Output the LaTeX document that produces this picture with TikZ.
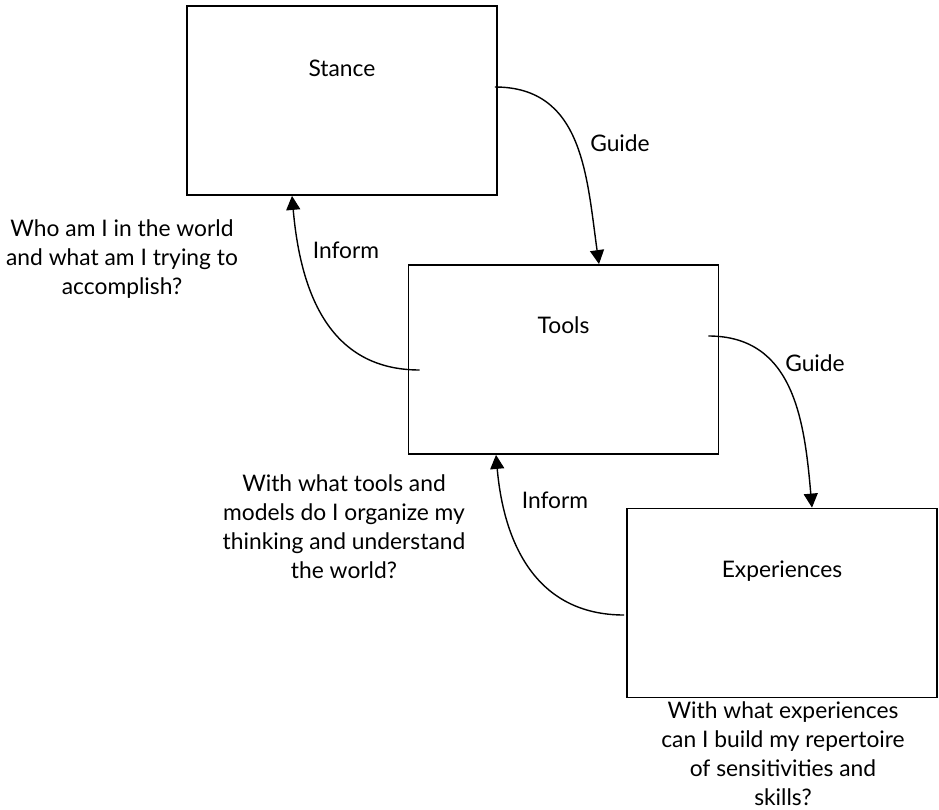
\documentclass[tikz,border=0pt]{standalone}
\usepackage{fontspec}
\setmainfont{Lato}
\usepackage{tikz}
\usetikzlibrary{arrows.meta,positioning}

\tikzset{
  box/.style={draw,line width=1.8pt,minimum width=310pt,minimum height=189pt,inner sep=0pt},
  word/.style={font=\fontsize{22.8}{29}\selectfont,inner sep=0pt},
  ask/.style={word,align=center},
  link/.style={line width=1.4pt,-{Triangle[length=14pt,width=14pt]}}
}

\begin{document}
\begin{tikzpicture}[x=1pt,y=-1pt]
\useasboundingbox (0,0) rectangle (939,810);
\node[box] (B1) at (342,100.5) {};
\node[word] (T1) at ([shift={(0,-32)}]B1) {Stance};
\node[box] (B2) at (563.5,359.5) {};
\node[word] (T2) at ([shift={(0,-34)}]B2) {Tools};
\node[box] (B3) at (782,603) {};
\node[word] (T3) at ([shift={(0,-32)}]B3) {Experiences};

\node[ask] (Q1) at (122,259) {Who am I in the world\\and what am I trying to\\accomplish?};
\node[ask] (Q2) at (344,527) {With what tools and\\models do I organize my\\thinking and understand\\the world?};
\node[ask] (Q3) at (783,754) {With what experiences\\can I build my repertoire\\of sensitivities and\\skills?};

\node[word] (G1) at (620,143) {Guide};
\node[word] (G2) at (815,363) {Guide};
\node[word] (I1) at (346,250) {Inform};
\node[word] (I2) at (555,500) {Inform};

\draw[link] ([shift={(-3,-13.5)}]B1.east) to[out=0,in=98,looseness=1.1] ([shift={(35.5,0)}]B2.north);
\draw[link] ([shift={(-11,-23.5)}]B2.east) to[out=0,in=95,looseness=1.1] ([shift={(30,0)}]B3.north);
\draw[link] ([shift={(12,10.5)}]B2.west) to[out=180,in=-85,looseness=1.1] ([shift={(-50,0)}]B1.south);
\draw[link] ([shift={(-2,12)}]B3.west) to[out=180,in=-85,looseness=1.1] ([shift={(-67.5,0)}]B2.south);
\end{tikzpicture}
\end{document}
